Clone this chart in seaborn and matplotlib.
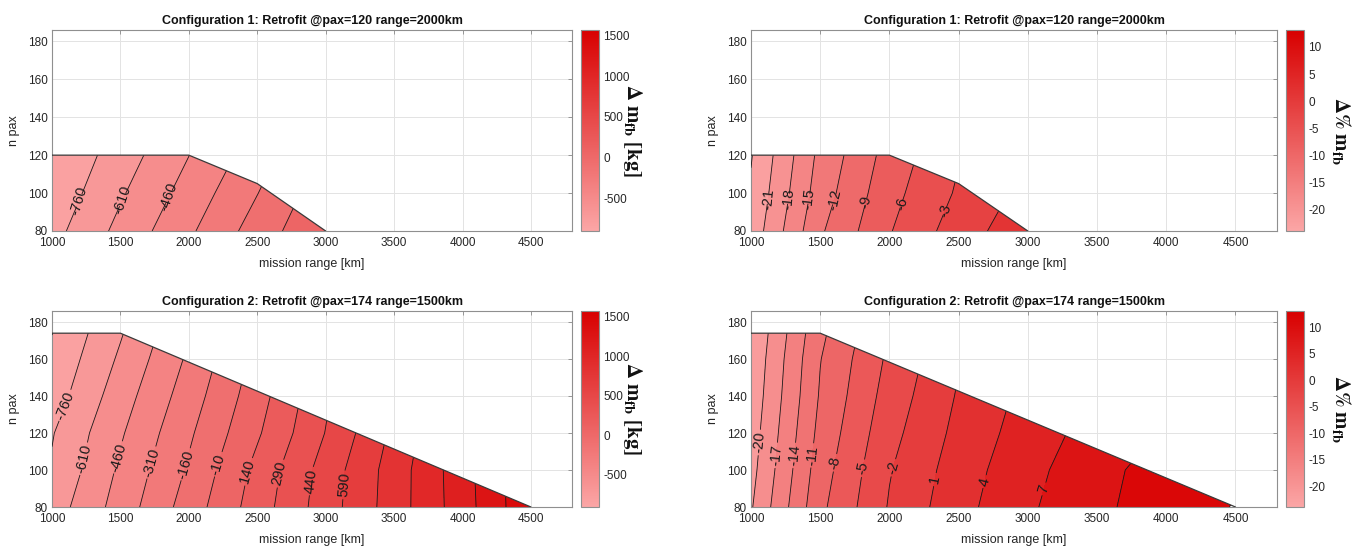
import numpy as np
import matplotlib
matplotlib.use("Agg")
import matplotlib.pyplot as plt
import seaborn as sns
from matplotlib.patches import Polygon
from matplotlib.cm import ScalarMappable
from matplotlib.colors import Normalize

# ---------------- data ----------------
range_c1 = [1000, 1500, 2000, 2500, 3000]
pax_c1 = [80, 100, 120]
range_c2 = [1000, 1500, 2000, 2500, 3000, 3500, 4000, 4500]
pax_c2 = [80, 100, 120, 140, 160, 180]

# delta fuel burn [kg]
dmfb_kg_c1 = [
    [-811, -568, -335, -94, 134],
    [-865, -628, -400, -164, 80],
    [-905, -687, -462, -234, 30],
]
dmfb_kg_c2 = [
    [-688, -396, -91, 214, 518, 815, 1122, 1465],
    [-743, -434, -140, 184, 503, 810, 1130, 1470],
    [-770, -478, -184, 120, 445, 775, 1110, 1470],
    [-835, -530, -235, 75, 415, 765, 1110, 1470],
    [-882, -586, -285, 35, 385, 755, 1110, 1470],
    [-925, -640, -335, -5, 355, 745, 1110, 1470],
]
# delta fuel burn [%]
dmfb_pct_c1 = [
    [-22.9, -12.4, -6.2, -1.5, 2.1],
    [-23.6, -13.5, -7.0, -2.6, 1.0],
    [-24.2, -14.2, -7.8, -3.2, 0.2],
]
dmfb_pct_c2 = [
    [-20.3, -8.7, -1.74, 2.96, 6.58, 9.23, 11.9, 13.1],
    [-21.0, -9.4, -2.2, 2.48, 6.14, 8.9, 11.6, 12.9],
    [-21.5, -10.1, -2.96, 1.85, 5.47, 8.2, 10.3, 12.3],
    [-22.0, -10.7, -3.7, 1.3, 4.9, 7.6, 9.8, 11.8],
    [-22.4, -11.1, -4.4, 0.8, 4.4, 7.1, 9.4, 11.4],
    [-22.9, -11.9, -5.1, 0.3, 3.9, 6.6, 9.0, 11.0],
]

# payload-range envelopes
env_range_c1 = [1000, 1000, 2000, 2500, 3000]
env_pax_c1 = [80, 120, 120, 105, 80]
env_range_c2 = [1000, 1000, 1500, 4500]
env_pax_c2 = [80, 174, 174, 80]

# contour levels and labelled levels
levels_kg = [-910, -760, -610, -460, -310, -160, -10, 140, 290, 440, 590, 740, 890, 1040, 1190, 1340, 1490, 1640]
levels_pct_c1 = [-24, -21, -18, -15, -12, -9, -6, -3, 0, 3]
levels_pct_c2 = [-23, -20, -17, -14, -11, -8, -5, -2, 1, 4, 7, 10, 13]
labels_kg_c1 = [-760, -610, -460]
labels_kg_c2 = [-760, -610, -460, -310, -160, -10, 140, 290, 440, 590]
labels_pct_c1 = [-21, -18, -15, -12, -9, -6, -3]
labels_pct_c2 = [-20, -17, -14, -11, -8, -5, -2, 1, 4, 7]

clim_kg = (-905, 1570)
clim_pct = (-23.9, 13.1)
cbar_ticks_kg = [-500, 0, 500, 1000, 1500]
cbar_ticks_pct = [-20, -15, -10, -5, 0, 5, 10]
xticks = [1000, 1500, 2000, 2500, 3000, 3500, 4000, 4500]
yticks = [80, 100, 120, 140, 160, 180]

title_c1 = "Configuration 1: Retrofit @pax=120 range=2000km"
title_c2 = "Configuration 2: Retrofit @pax=174 range=1500km"

# ---------------- style ----------------
sns.set_theme(style="white")
plt.rcParams["font.family"] = ["Liberation Sans", "DejaVu Sans"]
plt.rcParams["mathtext.fontset"] = "stix"
plt.rcParams["axes.unicode_minus"] = False

cmap = sns.blend_palette(["#FBA6A6", "#D80000"], as_cmap=True)

fig = plt.figure(figsize=(13.54, 5.50), dpi=100)

L1, W1 = 52 / 1354, 520 / 1354
L2, W2 = 751 / 1354, 526 / 1354
CB1, CB2, CBW = 581 / 1354, 1286 / 1354, 18 / 1354
TOP_B, TOP_H = 1 - 231 / 550, 201 / 550
BOT_B, BOT_H = 1 - 507 / 550, 196 / 550


def panel(ax_rect, cax_rect, xr, yp, Z, env_x, env_y, levels, lab_levels, lab_pos,
          clim, title, cbar_label, cbar_ticks, cb_labelpad):
    ax = fig.add_axes(ax_rect)
    cax = fig.add_axes(cax_rect)
    norm = Normalize(vmin=clim[0], vmax=clim[1])
    X, Y = np.meshgrid(xr, yp)
    Zarr = np.array(Z, dtype=float)
    cf = ax.contourf(X, Y, Zarr, levels=levels, cmap=cmap, norm=norm, zorder=2)
    plain_levels = [lv for lv in levels if lv not in lab_levels]
    cl = ax.contour(X, Y, Zarr, levels=plain_levels, colors="#1a1a1a",
                    linewidths=0.6, linestyles="solid", zorder=3)
    clab = ax.contour(X, Y, Zarr, levels=lab_levels, colors="#1a1a1a",
                      linewidths=0.6, linestyles="solid", zorder=3)
    ax.clabel(clab, inline=True, fontsize=10.5, fmt="%d", manual=lab_pos,
              colors="#1a1a1a", inline_spacing=3)
    poly = Polygon(np.column_stack([env_x, env_y]), closed=True, facecolor="none",
                   edgecolor="none", transform=ax.transData)
    ax.add_patch(poly)
    cf.set_clip_path(poly)
    cl.set_clip_path(poly)
    clab.set_clip_path(poly)
    sns.lineplot(x=env_x[1:], y=env_y[1:], sort=False, estimator=None, ax=ax,
                 color="#3a3a3a", linewidth=0.9, zorder=4)

    ax.set_xlim(1000, 4800)
    ax.set_ylim(80, 186)
    ax.set_xticks(xticks)
    ax.set_yticks(yticks)
    ax.set_axisbelow(True)
    ax.grid(True, color="#e3e3e3", linewidth=0.7)
    ax.tick_params(direction="in", top=True, right=True, length=3, width=0.6,
                   color="#8a8a8a", labelcolor="#262626", labelsize=8.5)
    ax.tick_params(axis="x", pad=4)
    ax.tick_params(axis="y", pad=3)
    for s in ax.spines.values():
        s.set_color("#8f8f8f")
        s.set_linewidth(0.8)
    ax.set_xlabel("mission range [km]", fontsize=9, color="#262626", labelpad=7)
    ax.set_ylabel("n pax", fontsize=9, color="#262626", labelpad=6)
    ax.set_title(title, fontsize=9, fontweight="bold", color="#111111", pad=4,
                 family=["Liberation Sans Narrow", "Liberation Sans"])

    cb = fig.colorbar(ScalarMappable(norm=norm, cmap=cmap), cax=cax)
    cb.set_ticks(cbar_ticks)
    cb.ax.tick_params(labelsize=8.5, labelcolor="#262626", length=2.5, width=0.6,
                      color="#8a8a8a", direction="in", pad=3)
    cb.outline.set_edgecolor("#8f8f8f")
    cb.outline.set_linewidth(0.8)
    cb.set_label(cbar_label, rotation=270, fontsize=15, labelpad=cb_labelpad,
                 color="#111111")
    return ax


pos_kg_c1 = [(1206, 96), (1538, 96), (1855, 98)]
pos_kg_c2 = [(1095, 135), (1238, 106), (1475, 107), (1729, 104), (1982, 103),
             (2220, 103), (2441, 99), (2679, 98), (2900, 94), (3122, 92)]
pos_pct_c1 = [(1121, 97), (1267, 97), (1410, 97), (1571, 97), (1773, 96),
              (2037, 95), (2378, 91)]
pos_pct_c2 = [(1043, 115), (1174, 108), (1298, 108), (1431, 108), (1602, 104),
              (1804, 101), (2037, 101), (2316, 95), (2673, 94), (3107, 90)]

lab_kg = r"$\mathbf{\Delta\ m_{fb}\ [kg]}$"
lab_pct = r"$\mathbf{\Delta\%\ m_{fb}}$"

panel([L1, TOP_B, W1, TOP_H], [CB1, TOP_B, CBW, TOP_H], range_c1, pax_c1, dmfb_kg_c1,
      env_range_c1, env_pax_c1, levels_kg, labels_kg_c1, pos_kg_c1, clim_kg,
      title_c1, lab_kg, cbar_ticks_kg, 10)
panel([L2, TOP_B, W2, TOP_H], [CB2, TOP_B, CBW, TOP_H], range_c1, pax_c1, dmfb_pct_c1,
      env_range_c1, env_pax_c1, levels_pct_c1, labels_pct_c1, pos_pct_c1, clim_pct,
      title_c1, lab_pct, cbar_ticks_pct, 20)
panel([L1, BOT_B, W1, BOT_H], [CB1, BOT_B, CBW, BOT_H], range_c2, pax_c2, dmfb_kg_c2,
      env_range_c2, env_pax_c2, levels_kg, labels_kg_c2, pos_kg_c2, clim_kg,
      title_c2, lab_kg, cbar_ticks_kg, 10)
panel([L2, BOT_B, W2, BOT_H], [CB2, BOT_B, CBW, BOT_H], range_c2, pax_c2, dmfb_pct_c2,
      env_range_c2, env_pax_c2, levels_pct_c2, labels_pct_c2, pos_pct_c2, clim_pct,
      title_c2, lab_pct, cbar_ticks_pct, 20)

fig.savefig("out.png", dpi=100)
